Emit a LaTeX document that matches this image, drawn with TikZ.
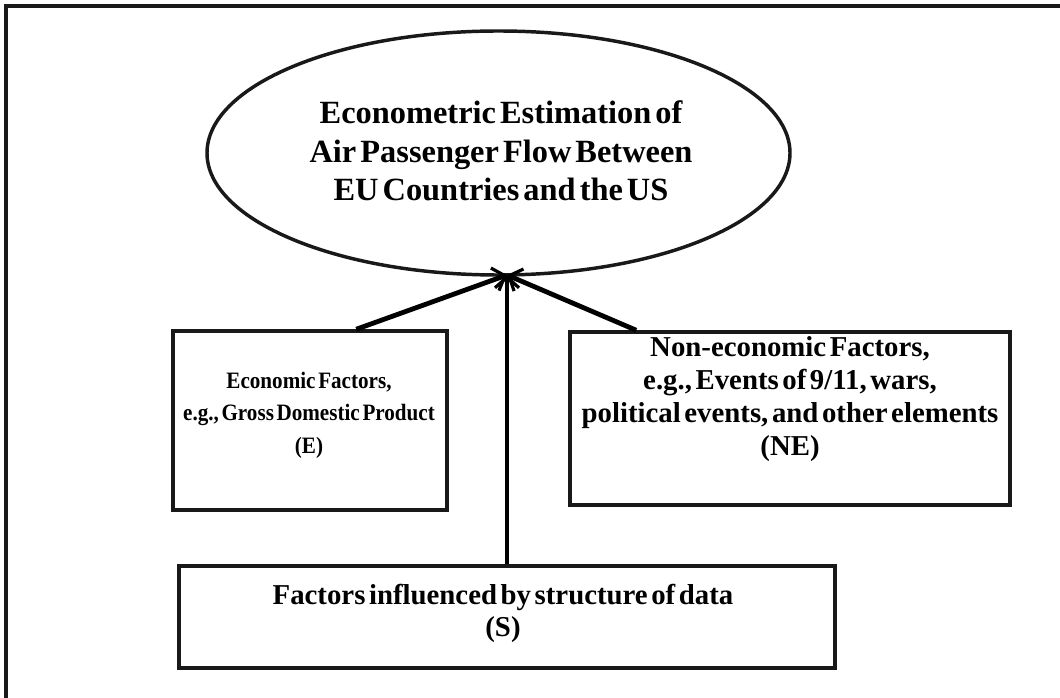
\documentclass[tikz,border=0pt]{standalone}
\usepackage{fontspec}
\setmainfont[WordSpace=0.5]{Liberation Serif}
\newfontfamily\condensedserif[WordSpace=0.5,FakeStretch=0.9]{Liberation Serif}
\usetikzlibrary{arrows.meta,shapes.geometric,calc}
\begin{document}
\begin{tikzpicture}[x=0.75pt,y=-0.75pt,
  frame/.style={line width=2.6pt,draw=black!90},
  boxst/.style={line width=2.6pt,draw=black!90,rectangle,inner sep=0pt},
  txt/.style={align=center,font=\bfseries\fontsize{21.6}{24.6}\selectfont},
  txtsmall/.style={align=center,font=\condensedserif\bfseries\fontsize{17.6}{24.4}\selectfont},
  conn/.style={line width=3.6pt,draw=black,-{Straight Barb[length=8pt,width=18pt,line width=2.4pt]}}]
\useasboundingbox (0,0) rectangle (1060,698);
\draw[frame] (6,720) -- (6,6) -- (1080,6);
\node[ellipse,draw=black!90,line width=2.6pt,minimum width=437.25pt,minimum height=183pt,inner sep=0pt] (goal) at (498.5,153) {};
\node[align=center,font=\bfseries\fontsize{24.3}{29}\selectfont] (goaltext) at (501,151)
 {Econometric Estimation of\\Air Passenger Flow Between\\EU Countries and the US};
\node[boxst,minimum width=205.5pt,minimum height=134.25pt] (E) at (310,420.5) {};
\node[txtsmall] (Etext) at (309,415) {Economic Factors,\\e.g., Gross Domestic Product\\(E)};
\node[boxst,minimum width=330pt,minimum height=129.75pt] (NE) at (790,418.5) {};
\node[txt] (NEtext) at (790,399) {Non-economic Factors,\\e.g., Events of 9/11, wars,\\political events, and other elements\\(NE)};
\node[boxst,minimum width=492pt,minimum height=76.5pt] (S) at (507,617) {};
\node[txt] (Stext) at (503,613.5) {Factors influenced by structure of data\\(S)};
\coordinate (tip) at (507,275);
\draw[conn] ($(E.north west)+(185,0)$) -- (tip);
\draw[conn] ($(NE.north west)+(68,0)$) -- (tip);
\draw[conn] (S.north -| tip) -- (tip);
\end{tikzpicture}
\end{document}
